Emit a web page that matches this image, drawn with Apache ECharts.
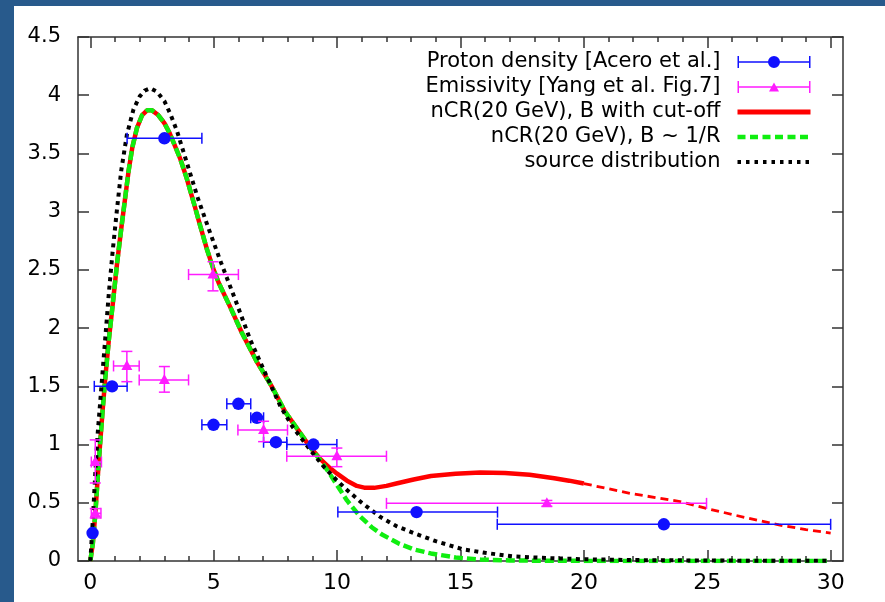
<!DOCTYPE html>
<html><head><meta charset="utf-8">
<script src="https://cdn.jsdelivr.net/npm/echarts@6/dist/echarts.min.js"></script>
<style>html,body{margin:0;padding:0;background:#fff;} #c{width:885px;height:602px;}</style>
</head><body><div id="c"></div>
<script>
// ---------- data ----------
const xMajorTicks = [0, 5, 10, 15, 20, 25, 30];
const xMinorTicks = [1,2,3,4,6,7,8,9,11,12,13,14,16,17,18,19,21,22,23,24,26,27,28,29];

const legendNames = ['Proton density [Acero et al.]', 'Emissivity [Yang et al. Fig.7]',
  'nCR(20 GeV), B with cut-off', 'nCR(20 GeV), B ~ 1/R', 'source distribution'];

// proton density: x, y, xlo, xhi
const protonX   = [0.09, 0.88, 3.0, 4.99, 6.0, 6.75, 7.52, 9.04, 13.22, 23.24];
const protonY   = [0.24, 1.5, 3.63, 1.17, 1.35, 1.23, 1.02, 1.0, 0.42, 0.315];
const protonXlo = [0.0, 0.16, 1.49, 4.52, 5.53, 6.5, 7.02, 7.96, 10.03, 16.49];
const protonXhi = [0.2, 1.49, 4.52, 5.53, 6.5, 7.02, 7.96, 9.99, 16.5, 30.0];

// emissivity: x, y, xlo, xhi, ylo, yhi
const emisX   = [0.2, 0.2, 1.48, 3.0, 4.97, 7.02, 9.99, 18.5];
const emisY   = [0.41, 0.85, 1.675, 1.555, 2.46, 1.125, 0.9, 0.495];
const emisXlo = [0.04, 0.04, 0.94, 1.98, 3.98, 5.98, 7.96, 12.0];
const emisXhi = [0.43, 0.45, 1.98, 3.98, 6.0, 7.99, 12.0, 24.97];
const emisYlo = [0.37, 0.67, 1.54, 1.45, 2.32, 1.025, 0.81, 0.47];
const emisYhi = [0.45, 1.04, 1.80, 1.67, 2.57, 1.2, 0.97, 0.52];

// nCR, B ~ 1/R (green dashed)
const greenX = [0, 0.1, 0.2, 0.3, 0.4, 0.5, 0.6, 0.75, 0.93, 1.08, 1.25, 1.4, 1.55, 1.7, 1.89, 2.1, 2.3, 2.5, 2.75, 3.0, 3.2, 3.4, 3.65, 3.9, 4.2, 4.45, 4.72, 5.0, 5.2, 5.67, 6.14, 6.75, 7.35, 7.9, 8.4, 8.9, 9.3, 9.7, 10.0, 10.4, 10.9, 11.4, 11.8, 12.5, 13.1, 13.8, 14.8, 15.8, 17.0, 18.5, 20, 22, 25, 28, 30];
const greenY = [0, 0.15, 0.4, 0.72, 1.02, 1.3, 1.56, 1.9, 2.25, 2.55, 2.85, 3.1, 3.35, 3.55, 3.72, 3.83, 3.87, 3.87, 3.83, 3.76, 3.68, 3.58, 3.45, 3.29, 3.07, 2.88, 2.68, 2.5, 2.39, 2.18, 1.96, 1.71, 1.5, 1.28, 1.13, 0.98, 0.87, 0.75, 0.65, 0.52, 0.39, 0.29, 0.23, 0.15, 0.1, 0.065, 0.03, 0.012, 0.005, 0.002, 0.001, 0, 0, 0, 0];

// nCR, B with cut-off (red solid up to 20)
const redX = [0, 0.1, 0.2, 0.3, 0.4, 0.5, 0.6, 0.75, 0.93, 1.08, 1.25, 1.4, 1.55, 1.7, 1.89, 2.1, 2.3, 2.5, 2.75, 3.0, 3.2, 3.4, 3.65, 3.9, 4.2, 4.45, 4.72, 5.0, 5.2, 5.67, 6.14, 6.75, 7.35, 7.9, 8.4, 8.9, 9.3, 9.7, 10.0, 10.4, 10.8, 11.1, 11.5, 12.0, 12.4, 13.1, 13.8, 14.8, 15.8, 16.8, 17.8, 18.8, 19.4, 20.0];
const redY = [0, 0.15, 0.4, 0.72, 1.02, 1.3, 1.56, 1.9, 2.25, 2.55, 2.85, 3.1, 3.35, 3.55, 3.72, 3.83, 3.87, 3.87, 3.83, 3.76, 3.68, 3.58, 3.45, 3.29, 3.07, 2.88, 2.68, 2.5, 2.39, 2.18, 1.96, 1.71, 1.5, 1.28, 1.13, 0.98, 0.88, 0.8, 0.75, 0.69, 0.645, 0.63, 0.628, 0.645, 0.665, 0.7, 0.73, 0.75, 0.76, 0.755, 0.74, 0.71, 0.69, 0.665];
// red dashed continuation beyond 20
const redDashX = [20, 21, 21.9, 22.9, 23.9, 25.0, 26.0, 26.6, 27.9, 29.0, 30];
const redDashY = [0.665, 0.62, 0.58, 0.545, 0.51, 0.45, 0.4, 0.37, 0.31, 0.27, 0.24];

// source distribution (black dotted)
const blackX = [0, 0.1, 0.2, 0.3, 0.45, 0.6, 0.75, 0.9, 1.08, 1.25, 1.48, 1.75, 2.0, 2.2, 2.43, 2.7, 3.0, 3.24, 3.5, 3.75, 4.0, 4.35, 4.8, 5.3, 5.88, 6.48, 7.16, 7.7, 8.2, 8.6, 9.0, 9.5, 10.0, 10.4, 11.0, 11.74, 12.4, 13.1, 14.0, 15.1, 16.0, 17.1, 18.5, 20, 22, 25, 28, 30];
const blackY = [0, 0.35, 0.75, 1.1, 1.5, 1.9, 2.3, 2.65, 3.02, 3.35, 3.66, 3.88, 3.99, 4.04, 4.06, 4.03, 3.95, 3.84, 3.7, 3.53, 3.36, 3.12, 2.85, 2.56, 2.24, 1.9, 1.58, 1.33, 1.15, 1.04, 0.93, 0.8, 0.69, 0.61, 0.5, 0.38, 0.3, 0.24, 0.17, 0.1, 0.07, 0.04, 0.025, 0.015, 0.008, 0.004, 0.002, 0.001];

// ---------- chart ----------
const FONT = 'DejaVu Sans';
const AX = '#333333';
const BLUE = '#1010ff';
const MAG = '#ff1cff';
const RED = '#ff0000';
const GREEN = '#10ee10';
const zip = (a, b) => a.map((v, i) => [v, b[i]]);

const protonData = protonX.map((v, i) => [v, protonY[i], protonXlo[i], protonXhi[i]]);
const emisData = emisX.map((v, i) => [v, emisY[i], emisXlo[i], emisXhi[i], emisYlo[i], emisYhi[i]]);

const CAP = 5.5;
function hBar(api, x, y, lo, hi, color, ch) {
  const l = api.coord([lo, y]), r = api.coord([hi, y]);
  const st = {stroke: color, lineWidth: 1.5};
  ch.push({type: 'line', shape: {x1: l[0], y1: l[1], x2: r[0], y2: r[1]}, style: st});
  ch.push({type: 'line', shape: {x1: l[0], y1: l[1] - CAP, x2: l[0], y2: l[1] + CAP}, style: st});
  ch.push({type: 'line', shape: {x1: r[0], y1: r[1] - CAP, x2: r[0], y2: r[1] + CAP}, style: st});
}
function vBar(api, x, lo, hi, color, ch) {
  const b = api.coord([x, lo]), t = api.coord([x, hi]);
  const st = {stroke: color, lineWidth: 1.5};
  ch.push({type: 'line', shape: {x1: b[0], y1: b[1], x2: t[0], y2: t[1]}, style: st});
  ch.push({type: 'line', shape: {x1: b[0] - CAP, y1: b[1], x2: b[0] + CAP, y2: b[1]}, style: st});
  ch.push({type: 'line', shape: {x1: t[0] - CAP, y1: t[1], x2: t[0] + CAP, y2: t[1]}, style: st});
}
function renderProton(params, api) {
  const x = api.value(0), y = api.value(1);
  const ch = [];
  hBar(api, x, y, api.value(2), api.value(3), BLUE, ch);
  const c = api.coord([x, y]);
  ch.push({type: 'circle', shape: {cx: c[0], cy: c[1], r: 6.2}, style: {fill: BLUE}});
  return {type: 'group', children: ch};
}
function renderEmis(params, api) {
  const x = api.value(0), y = api.value(1);
  const ch = [];
  hBar(api, x, y, api.value(2), api.value(3), MAG, ch);
  vBar(api, x, api.value(4), api.value(5), MAG, ch);
  const c = api.coord([x, y]);
  ch.push({type: 'polygon', shape: {points: [[c[0], c[1] - 6], [c[0] + 5.5, c[1] + 4], [c[0] - 5.5, c[1] + 4]]}, style: {fill: MAG}});
  return {type: 'group', children: ch};
}

const protonIcon = 'path://M0,0 L1.5,0 L1.5,12 L0,12 Z M71.5,0 L73,0 L73,12 L71.5,12 Z M0,5.25 L73,5.25 L73,6.75 L0,6.75 Z M30.5,6 A6,6 0 1 1 42.5,6 A6,6 0 1 1 30.5,6 Z';
const emisIcon = 'path://M0,0 L1.5,0 L1.5,12 L0,12 Z M71.5,0 L73,0 L73,12 L71.5,12 Z M0,5.25 L73,5.25 L73,6.75 L0,6.75 Z M36.5,1.5 L41.5,10.5 L31.5,10.5 Z';
const hiddenSymbol = {color: 'rgba(0,0,0,0)', borderColor: 'rgba(0,0,0,0)', borderWidth: 0, opacity: 0};

const axisLineStyle = {color: AX, width: 1.5};
function xAx(pos, ticks, len, withLine, withLabel) {
  return {
    type: 'value', min: -0.5, max: 30.5, position: pos, gridIndex: 0,
    axisLine: {show: withLine, onZero: false, lineStyle: axisLineStyle},
    axisTick: {show: true, inside: true, length: len, customValues: ticks, lineStyle: {color: AX, width: 1.5}},
    axisLabel: withLabel ? {show: true, customValues: ticks, margin: 11, fontFamily: FONT, fontSize: 22, color: '#000'} : {show: false},
    splitLine: {show: false}
  };
}
function yAx(pos, withLabel) {
  return {
    type: 'value', min: 0, max: 4.5, interval: 0.5, position: pos, gridIndex: 0,
    axisLine: {show: true, onZero: false, lineStyle: axisLineStyle},
    axisTick: {show: true, inside: true, length: 11, lineStyle: {color: AX, width: 1.5}},
    axisLabel: withLabel ? {show: true, margin: 17, fontFamily: FONT, fontSize: 21, color: '#000'} : {show: false},
    splitLine: {show: false}
  };
}

const option = {
  backgroundColor: '#ffffff',
  animation: false,
  graphic: [
    {type: 'rect', silent: true, z: -10, shape: {x: 0, y: 0, width: 14, height: 602}, style: {fill: '#285a8c'}},
    {type: 'rect', silent: true, z: -10, shape: {x: 0, y: 0, width: 885, height: 6}, style: {fill: '#285a8c'}}
  ],
  grid: {left: 78, right: 42, top: 37, bottom: 41, containLabel: false},
  xAxis: [
    xAx('bottom', xMajorTicks, 11, true, true),
    xAx('top', xMajorTicks, 11, true, false),
    xAx('bottom', xMinorTicks, 5, false, false),
    xAx('top', xMinorTicks, 5, false, false)
  ],
  yAxis: [yAx('left', true), yAx('right', false)],
  legend: {
    orient: 'vertical', right: 72, top: 49.5, align: 'right',
    itemWidth: 73, itemHeight: 12, itemGap: 0, padding: 0, selectedMode: false,
    textStyle: {fontFamily: FONT, fontSize: 21, color: '#000', lineHeight: 25, padding: [0, 12, 0, 0]},
    data: [
      {name: legendNames[0], icon: protonIcon},
      {name: legendNames[1], icon: emisIcon},
      {name: legendNames[2], itemStyle: hiddenSymbol, lineStyle: {color: RED, width: 5, type: 'solid'}},
      {name: legendNames[3], itemStyle: hiddenSymbol, lineStyle: {color: GREEN, width: 4.5, type: [8, 4.5]}},
      {name: legendNames[4], itemStyle: hiddenSymbol, lineStyle: {color: '#000000', width: 4, type: [3.5, 5]}}
    ]
  },
  series: [
    {name: legendNames[2], type: 'line', data: zip(redX, redY), symbol: 'none', z: 2,
      lineStyle: {color: RED, width: 4.5}, itemStyle: {color: RED}},
    {name: 'redDash', type: 'line', data: zip(redDashX, redDashY), symbol: 'none', z: 2,
      lineStyle: {color: RED, width: 2.8, type: [8, 5]}, itemStyle: {color: RED}},
    {name: legendNames[3], type: 'line', data: zip(greenX, greenY), symbol: 'none', z: 3,
      lineStyle: {color: GREEN, width: 4.5, type: [9, 4]}, itemStyle: {color: GREEN}},
    {name: legendNames[4], type: 'line', data: zip(blackX, blackY), symbol: 'none', z: 4,
      lineStyle: {color: '#000000', width: 4, type: [4, 4.5]}, itemStyle: {color: '#000000'}},
    {name: legendNames[0], type: 'custom', coordinateSystem: 'cartesian2d', z: 5,
      dimensions: ['x', 'y', 'xlo', 'xhi'], encode: {x: 0, y: 1},
      itemStyle: {color: BLUE}, renderItem: renderProton, data: protonData},
    {name: legendNames[1], type: 'custom', coordinateSystem: 'cartesian2d', z: 5,
      dimensions: ['x', 'y', 'xlo', 'xhi', 'ylo', 'yhi'], encode: {x: 0, y: 1},
      itemStyle: {color: MAG}, renderItem: renderEmis, data: emisData}
  ]
};
const chart = echarts.init(document.getElementById('c'));
chart.setOption(option);
</script></body></html>
